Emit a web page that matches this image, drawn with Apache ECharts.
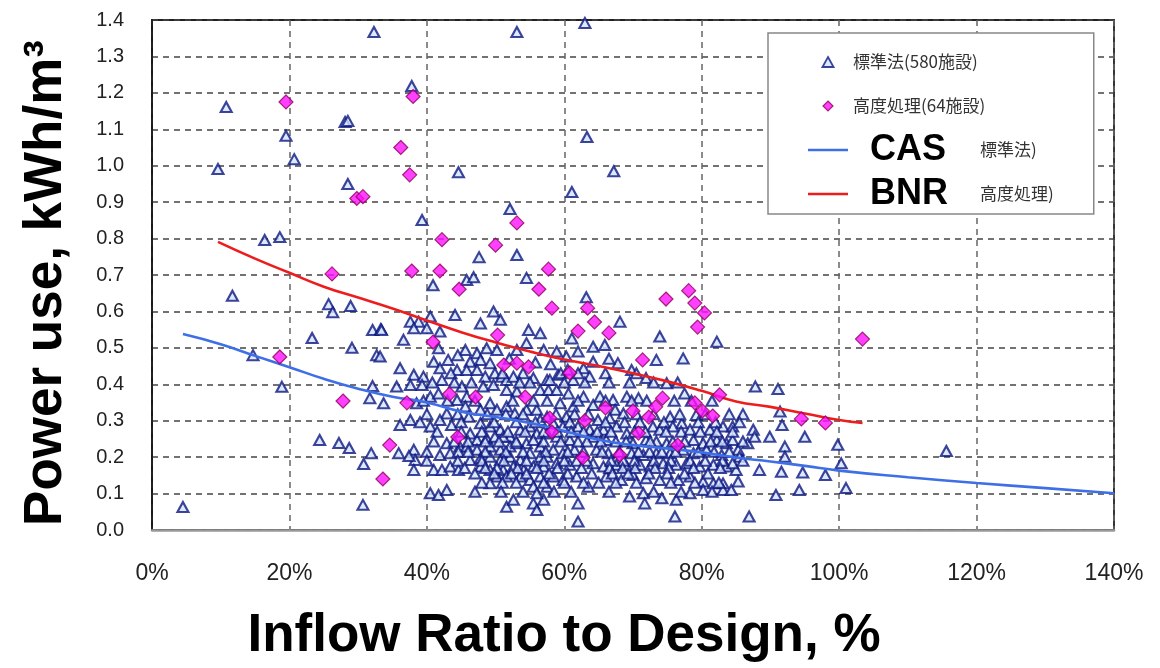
<!DOCTYPE html>
<html>
<head>
<meta charset="utf-8">
<script src="https://cdn.jsdelivr.net/npm/echarts@6/dist/echarts.min.js"></script>
<style>html,body{margin:0;padding:0;background:#fff;}#c{width:1160px;height:668px;}</style>
</head>
<body>
<div id="c"></div>
<script>
// ---- Data ----
// x: inflow ratio to design (%), y: power use (kWh/m3)
const casScatter = [
  // sparse / outliers
  [32.3,1.367],[10.8,1.161],[37.8,1.219],[28.1,1.12],[28.5,1.123],[19.5,1.082],[20.7,1.018],[9.6,0.991],
  [44.6,0.982],[28.5,0.95],[39.3,0.851],[16.4,0.796],[18.6,0.804],[53.1,1.367],[63,1.392],[63.3,1.079],
  [67.2,0.985],[61.1,0.928],[52.1,0.881],[47.6,0.749],[53.1,0.755],[54.5,0.692],[45.8,0.686],[46.8,0.694],
  [40.9,0.672],[11.7,0.643],[115.6,0.217],
  // left part
  [4.5,0.063],[30.7,0.069],[24.4,0.247],[27.2,0.239],[28.7,0.225],[31.9,0.211],[30.8,0.181],[32.1,0.395],
  [31.7,0.362],[25.7,0.62],[26.3,0.598],[28.9,0.615],[23.3,0.527],[29.1,0.5],[32.7,0.48],[32.1,0.549],
  [33.3,0.552],[18.9,0.393],[14.7,0.48],
  // 33% - 58%
  [33.4,0.549],[37.6,0.572],[38.8,0.572],[38.1,0.554],[40.5,0.586],[41.9,0.545],[44.1,0.590],[47.8,0.567],
  [49.7,0.600],[50.7,0.577],[54.8,0.549],[56.5,0.540],[36.6,0.522],[41.7,0.499],[45.6,0.494],[47.3,0.485],
  [48.7,0.499],[50.2,0.494],[53.1,0.494],[54.5,0.513],[57.0,0.494],[33.2,0.476],[36.1,0.444],[38.1,0.426],
  [39.5,0.421],[41.0,0.462],[41.9,0.444],[43.1,0.467],[44.4,0.439],[42.2,0.412],[46.3,0.462],[47.8,0.467],
  [49.2,0.458],[45.8,0.439],[47.3,0.439],[48.5,0.421],[49.9,0.430],[50.9,0.421],[48.2,0.394],[49.7,0.398],
  [51.6,0.412],[52.6,0.421],[55.5,0.417],[57.5,0.412],[37.6,0.398],[39.3,0.398],[35.6,0.394],[40.5,0.366],
  [41.7,0.375],[45.1,0.394],[45.8,0.366],[44.4,0.357],[51.6,0.384],[53.1,0.380],[56.5,0.384],[57.7,0.384],
  [33.7,0.348],[38.5,0.348],[42.9,0.320],[41.9,0.302],[45.6,0.339],[46.1,0.311],[47.8,0.330],[49.2,0.348],
  [50.2,0.330],[51.6,0.339],[52.8,0.320],[54.5,0.330],[56.0,0.330],[56.5,0.302],[57.5,0.311],[37.6,0.302],
  [36.1,0.288],[40.5,0.284],[43.6,0.288],[47.8,0.293],[49.2,0.284],[50.7,0.275],[52.1,0.256],[53.6,0.275],
  [55.0,0.284],[56.0,0.265],[57.5,0.265],[46.3,0.265],[47.3,0.247],[48.7,0.252],[49.9,0.256],[51.1,0.256],
  [42.9,0.238],[44.8,0.229],[45.8,0.229],[47.3,0.220],[49.2,0.229],[50.7,0.220],[52.1,0.229],[53.1,0.238],
  [54.5,0.238],[55.5,0.247],[56.5,0.229],[38.1,0.220],[35.9,0.211],[41.9,0.206],[43.4,0.211],[38.3,0.192],
  [46.3,0.192],[47.8,0.197],[49.2,0.201],[50.7,0.192],[52.1,0.201],[53.6,0.192],[55.0,0.211],[56.5,0.201],
  [57.5,0.201],[38.1,0.165],[41.0,0.165],[42.2,0.165],[43.4,0.174],[44.6,0.165],[47.8,0.174],[49.2,0.165],
  [51.1,0.165],[52.6,0.174],[54.1,0.165],[55.5,0.174],[57.0,0.174],[50.2,0.147],[51.6,0.147],[53.6,0.147],
  [55.0,0.137],[56.5,0.147],[49.2,0.128],[55.5,0.119],[57.5,0.119],[40.5,0.101],[41.7,0.096],[42.9,0.110],
  [51.6,0.064],[52.6,0.083],[55.5,0.073],[56.0,0.055],[57.0,0.083],[56.0,0.101],[37.4,0.203],[40.0,0.554],
  // 58% - 84%
  [63.2,0.639],[68.1,0.572],[73.9,0.531],[82.2,0.517],[61.1,0.526],[64.2,0.503],[65.9,0.508],[58.9,0.490],
  [60.3,0.476],[64.2,0.462],[67.8,0.458],[69.8,0.439],[73.4,0.467],[77.3,0.471],[62.8,0.444],[63.7,0.421],
  [59.1,0.426],[61.3,0.412],[71.9,0.417],[74.9,0.403],[77.5,0.375],[57.9,0.412],[58.9,0.384],[60.6,0.375],
  [62.8,0.366],[65.2,0.366],[67.1,0.357],[69.1,0.366],[70.8,0.362],[59.4,0.348],[61.3,0.339],[64.2,0.343],
  [67.4,0.330],[68.6,0.320],[79.2,0.316],[60.3,0.311],[64.9,0.302],[66.6,0.307],[75.4,0.311],[77.1,0.293],
  [58.4,0.293],[59.8,0.284],[62.0,0.284],[63.7,0.275],[65.7,0.275],[67.6,0.284],[69.1,0.265],[72.9,0.284],
  [73.9,0.275],[75.8,0.284],[78.3,0.275],[81.2,0.275],[83.1,0.284],[58.9,0.256],[60.8,0.247],[64.2,0.256],
  [66.1,0.247],[70.0,0.238],[71.9,0.247],[73.4,0.243],[74.9,0.238],[78.8,0.247],[80.2,0.238],[82.2,0.247],
  [83.6,0.238],[58.4,0.220],[59.8,0.211],[61.5,0.220],[64.7,0.220],[66.4,0.211],[69.8,0.211],[71.5,0.206],
  [73.4,0.211],[75.4,0.211],[77.3,0.220],[78.8,0.211],[80.7,0.220],[82.9,0.206],[58.9,0.183],[60.8,0.179],
  [64.2,0.183],[65.7,0.174],[67.6,0.179],[69.1,0.174],[71.0,0.179],[72.5,0.174],[74.4,0.183],[76.3,0.179],
  [77.8,0.183],[79.7,0.174],[81.7,0.179],[83.6,0.174],[58.4,0.147],[59.8,0.137],[61.8,0.147],[63.5,0.119],
  [66.1,0.147],[68.3,0.137],[70.0,0.151],[71.9,0.142],[73.9,0.137],[76.6,0.137],[78.3,0.147],[80.2,0.133],
  [81.7,0.128],[83.1,0.128],[69.5,0.092],[71.5,0.101],[71.7,0.073],[74.2,0.087],[76.3,0.083],[78.3,0.101],
  [62.0,0.073],[76.1,0.037],[62.0,0.023],[83.1,0.110],[80.2,0.110],
  // 84% - 102%
  [87.8,0.394],[91.1,0.387],[91.4,0.325],[91.7,0.288],[89.9,0.256],[95.0,0.256],[99.8,0.234],[100.3,0.183],
  [101.0,0.115],[92.1,0.229],[92.1,0.201],[88.4,0.165],[91.6,0.160],[94.7,0.158],[98.0,0.151],[94.2,0.110],
  [90.8,0.096],[86.9,0.037],[84.5,0.284],[87.5,0.275],[86.7,0.238],[84.5,0.247],[85.3,0.220],[85.0,0.165],
  [85.3,0.133],[84.3,0.110],[85.5,0.201],[84.5,0.183],[87.7,0.256],
  // dense core, overlapping marks
  [43.5,0.43],[51.0,0.43],[54.0,0.43],[59.5,0.43],[62.0,0.43],[66.0,0.43],[70.5,0.43],
  [40.8,0.405],[44.0,0.405],[46.5,0.405],[53.5,0.405],[55.0,0.405],[60.0,0.405],[63.0,0.405],[66.5,0.405],
  [69.5,0.405],[73.0,0.405],[76.5,0.405],
  [39.5,0.355],[43.0,0.355],[47.0,0.355],[52.5,0.355],[55.5,0.355],[57.5,0.355],[62.0,0.355],[66.0,0.355],
  [69.8,0.355],[72.0,0.355],[76.0,0.355],[78.5,0.355],[81.5,0.355],
  [40.0,0.318],[44.5,0.318],[48.8,0.318],[51.5,0.318],[54.0,0.318],[58.8,0.318],[61.5,0.318],[63.5,0.318],
  [70.5,0.318],[73.0,0.318],[76.8,0.318],[80.5,0.318],[84.0,0.318],[86.0,0.318],
  [39.0,0.296],[45.0,0.296],[49.8,0.296],[53.0,0.296],[55.8,0.296],[60.8,0.296],[66.0,0.296],[68.8,0.296],
  [71.0,0.296],[74.5,0.296],[79.5,0.296],[82.0,0.296],[85.5,0.296],
  [41.5,0.27],[45.0,0.27],[48.0,0.27],[51.8,0.27],[54.3,0.27],[57.0,0.27],[59.0,0.27],[61.0,0.27],
  [62.8,0.27],[64.8,0.27],[66.8,0.27],[70.2,0.27],[71.8,0.27],[74.8,0.27],[77.0,0.27],[79.8,0.27],
  [82.2,0.27],[84.5,0.27],
  [41.0,0.243],[44.0,0.243],[46.0,0.243],[48.5,0.243],[50.5,0.243],[53.0,0.243],[57.0,0.243],[59.5,0.243],
  [62.0,0.243],[63.3,0.243],[65.3,0.243],[67.5,0.243],[69.0,0.243],[72.5,0.243],[75.8,0.243],[77.5,0.243],
  [81.3,0.243],[83.0,0.243],[86.0,0.243],
  [40.0,0.215],[44.6,0.215],[46.0,0.215],[48.5,0.215],[51.5,0.215],[54.0,0.215],[57.3,0.215],[60.5,0.215],
  [62.8,0.215],[65.5,0.215],[68.0,0.215],[70.8,0.215],[72.4,0.215],[74.2,0.215],[76.2,0.215],[79.5,0.215],
  [81.8,0.215],[84.0,0.215],
  [40.0,0.19],[44.5,0.19],[48.0,0.19],[51.2,0.19],[54.5,0.19],[57.0,0.19],[60.0,0.19],[61.8,0.19],
  [63.2,0.19],[66.8,0.19],[68.6,0.19],[70.2,0.19],[73.0,0.19],[75.5,0.19],[78.3,0.19],[80.5,0.19],
  [83.0,0.19],[86.0,0.19],
  [45.5,0.17],[48.5,0.17],[50.2,0.17],[53.2,0.17],[56.0,0.17],[59.0,0.17],[62.5,0.17],[66.6,0.17],
  [68.5,0.17],[70.3,0.17],[73.2,0.17],[75.2,0.17],[78.8,0.17],[82.7,0.17],
  [47.0,0.155],[49.8,0.155],[52.3,0.155],[54.5,0.155],[57.8,0.155],[60.5,0.155],[64.0,0.155],[67.0,0.155],
  [69.3,0.155],[72.3,0.155],[75.0,0.155],[77.5,0.155],[80.9,0.155],
  [48.0,0.13],[51.0,0.13],[53.0,0.13],[57.0,0.13],[60.0,0.13],[62.8,0.13],[65.0,0.13],[67.5,0.13],
  [70.5,0.13],[75.5,0.13],[79.0,0.13],[82.5,0.13],
  [47.0,0.105],[50.8,0.105],[54.0,0.105],[58.5,0.105],[61.0,0.105],[66.5,0.105],[73.0,0.105],[77.0,0.105],
  [81.5,0.105],
  [44.5,0.48],[52.0,0.47],[55.8,0.46],[58.0,0.455],[62.0,0.49],[66.5,0.47],[60.5,0.44]
];
const bnrScatter = [
  [19.5,1.175],[38,1.19],[36.2,1.05],[37.5,0.975],[29.8,0.91],[30.7,0.915],[42.2,0.797],[26.2,0.703],
  [37.8,0.711],[41.9,0.711],[53.1,0.843],[50,0.782],[44.7,0.661],[57.7,0.716],[56.3,0.661],[58.2,0.609],
  [63.4,0.609],[74.8,0.634],[78.1,0.657],[79,0.623],[80.4,0.596],[79.4,0.557],[64.4,0.571],[62,0.546],
  [66.5,0.541],[71.4,0.467],[60.8,0.431],[74.3,0.362],[73.3,0.338],[72.3,0.31],[66,0.335],[70,0.327],
  [63,0.3],[70.8,0.266],[68.1,0.206],[62.7,0.198],[76.5,0.233],[79,0.349],[80.1,0.327],[81.6,0.313],
  [82.6,0.371],[57.9,0.307],[58.2,0.269],[103.4,0.524],[94.5,0.305],[98,0.294],[40.9,0.516],[50.3,0.535],
  [51.2,0.453],[53.1,0.458],[54.8,0.448],[43.3,0.373],[47.1,0.365],[54.3,0.365],[37.1,0.349],[44.5,0.255],
  [34.6,0.233],[33.6,0.14],[18.6,0.475],[27.8,0.354]
];
const casCurve = [
  [4.5,0.538],[10,0.51],[15,0.478],[20,0.447],[25,0.415],[30,0.388],[35,0.366],[40,0.35],[45,0.325],
  [50,0.31],[55,0.294],[60,0.272],[65,0.248],[70,0.233],[75,0.224],[80,0.213],[85,0.199],[90,0.188],
  [95,0.176],[100,0.163],[110,0.145],[120,0.129],[130,0.115],[140,0.101]
];
const bnrCurve = [
  [9.6,0.791],[15,0.745],[20,0.706],[25,0.668],[30,0.638],[35,0.608],[40,0.575],[45,0.543],[50,0.515],
  [55,0.49],[60,0.468],[65,0.45],[70,0.43],[75,0.408],[80,0.382],[85,0.353],[90,0.338],[95,0.32],
  [100,0.302],[103.4,0.294]
];
const seriesNames = ['標準法(580施設)', '高度処理(64施設)', 'CAS', 'BNR'];
const legendSuffix = { CAS: '標準法)', BNR: '高度処理)' };
const xAxisTitle = 'Inflow Ratio to Design, %';
const yAxisTitle = 'Power use, kWh/m³';

const chart = echarts.init(document.getElementById('c'), null, { renderer: 'canvas' });
const latin = 'Liberation Sans, Arial, Helvetica, sans-serif';
const cjk = '"Noto Sans CJK JP", "Noto Sans CJK SC", sans-serif';
const casColor = '#3f6fe6', bnrColor = '#ee1d1d';
const lineIcon = 'path://M0,0L40,0L40,2.5L0,2.5Z';
const triIcon = 'path://M5,0L10,9L0,9Z';
const diaIcon = 'path://M5,0L10,5L5,10L0,5Z';
const triStyle = { color: '#d4e3ff', borderColor: '#0b1680', borderWidth: 2.1 };
const diaStyle = { color: '#ff10ff', borderColor: '#8e0058', borderWidth: 1.2 };

chart.setOption({
  animation: false,
  backgroundColor: '#ffffff',
  grid: { left: 152, top: 20, right: 46, bottom: 138, show: true, borderColor: '#222', borderWidth: 1.8, backgroundColor: '#fff' },
  xAxis: {
    type: 'value', min: 0, max: 140, interval: 20,
    name: xAxisTitle, nameLocation: 'middle', nameGap: 80,
    nameTextStyle: { fontFamily: latin, fontSize: 53, fontWeight: 'bold', color: '#000', padding: [0, 138, 0, 0] },
    axisLine: { show: true, lineStyle: { color: '#999', width: 2.5 } },
    axisTick: { show: false },
    axisLabel: { formatter: '{value}%', fontFamily: latin, fontSize: 23, color: '#222', margin: 32 },
    splitLine: { show: true, lineStyle: { color: '#666', width: 1.5, type: [6, 5] } }
  },
  yAxis: {
    type: 'value', min: 0, max: 1.4, interval: 0.1,
    name: yAxisTitle, nameLocation: 'middle', nameGap: 79,
    nameTextStyle: { fontFamily: latin, fontSize: 53, fontWeight: 'bold', color: '#000', padding: [0, 16, 0, 0] },
    axisLine: { show: true, lineStyle: { color: '#111', width: 1.5 } },
    axisTick: { show: false },
    axisLabel: { formatter: v => v.toFixed(1), fontFamily: latin, fontSize: 20, color: '#222', margin: 28 },
    splitLine: { show: true, lineStyle: { color: '#444', width: 1.5, type: [6, 5] } }
  },
  legend: {
    orient: 'vertical', left: 768, top: 33,
    itemWidth: 40, itemHeight: 10, itemGap: 8,
    padding: [11, 40, 2, 40],
    backgroundColor: '#fff', borderColor: '#888', borderWidth: 1.5,
    data: [
      { name: seriesNames[0], icon: triIcon, itemStyle: { color: triStyle.color, borderColor: triStyle.borderColor, borderWidth: 1.8 } },
      { name: seriesNames[1], icon: diaIcon, itemStyle: diaStyle },
      { name: seriesNames[2], icon: lineIcon, itemStyle: { color: casColor, borderWidth: 0 } },
      { name: seriesNames[3], icon: lineIcon, itemStyle: { color: bnrColor, borderWidth: 0 } }
    ],
    formatter: name => legendSuffix[name] ? '{w|' + name + '}{s|' + legendSuffix[name] + '}' : name,
    textStyle: {
      fontFamily: cjk, fontSize: 17, color: '#333', lineHeight: 36,
      rich: {
        w: { fontFamily: latin, fontSize: 36, fontWeight: 'bold', color: '#000', width: 110, padding: [0, 0, 0, 17], lineHeight: 36 },
        s: { fontFamily: cjk, fontSize: 17, color: '#333', lineHeight: 36 }
      }
    }
  },
  series: [
    {
      name: seriesNames[0], type: 'scatter', data: casScatter,
      symbol: 'triangle', symbolSize: [11, 10],
      itemStyle: triStyle,
      z: 2
    },
    {
      name: seriesNames[2], type: 'line', data: casCurve, smooth: true,
      symbol: 'none', showSymbol: false,
      lineStyle: { color: casColor, width: 2.6 }, itemStyle: { color: casColor }, z: 3
    },
    {
      name: seriesNames[3], type: 'line', data: bnrCurve, smooth: true,
      symbol: 'none', showSymbol: false,
      lineStyle: { color: bnrColor, width: 2.6 }, itemStyle: { color: bnrColor }, z: 3
    },
    {
      name: seriesNames[1], type: 'scatter', data: bnrScatter,
      symbol: 'diamond', symbolSize: 14,
      itemStyle: diaStyle,
      z: 4
    }
  ]
});
</script>
</body>
</html>
